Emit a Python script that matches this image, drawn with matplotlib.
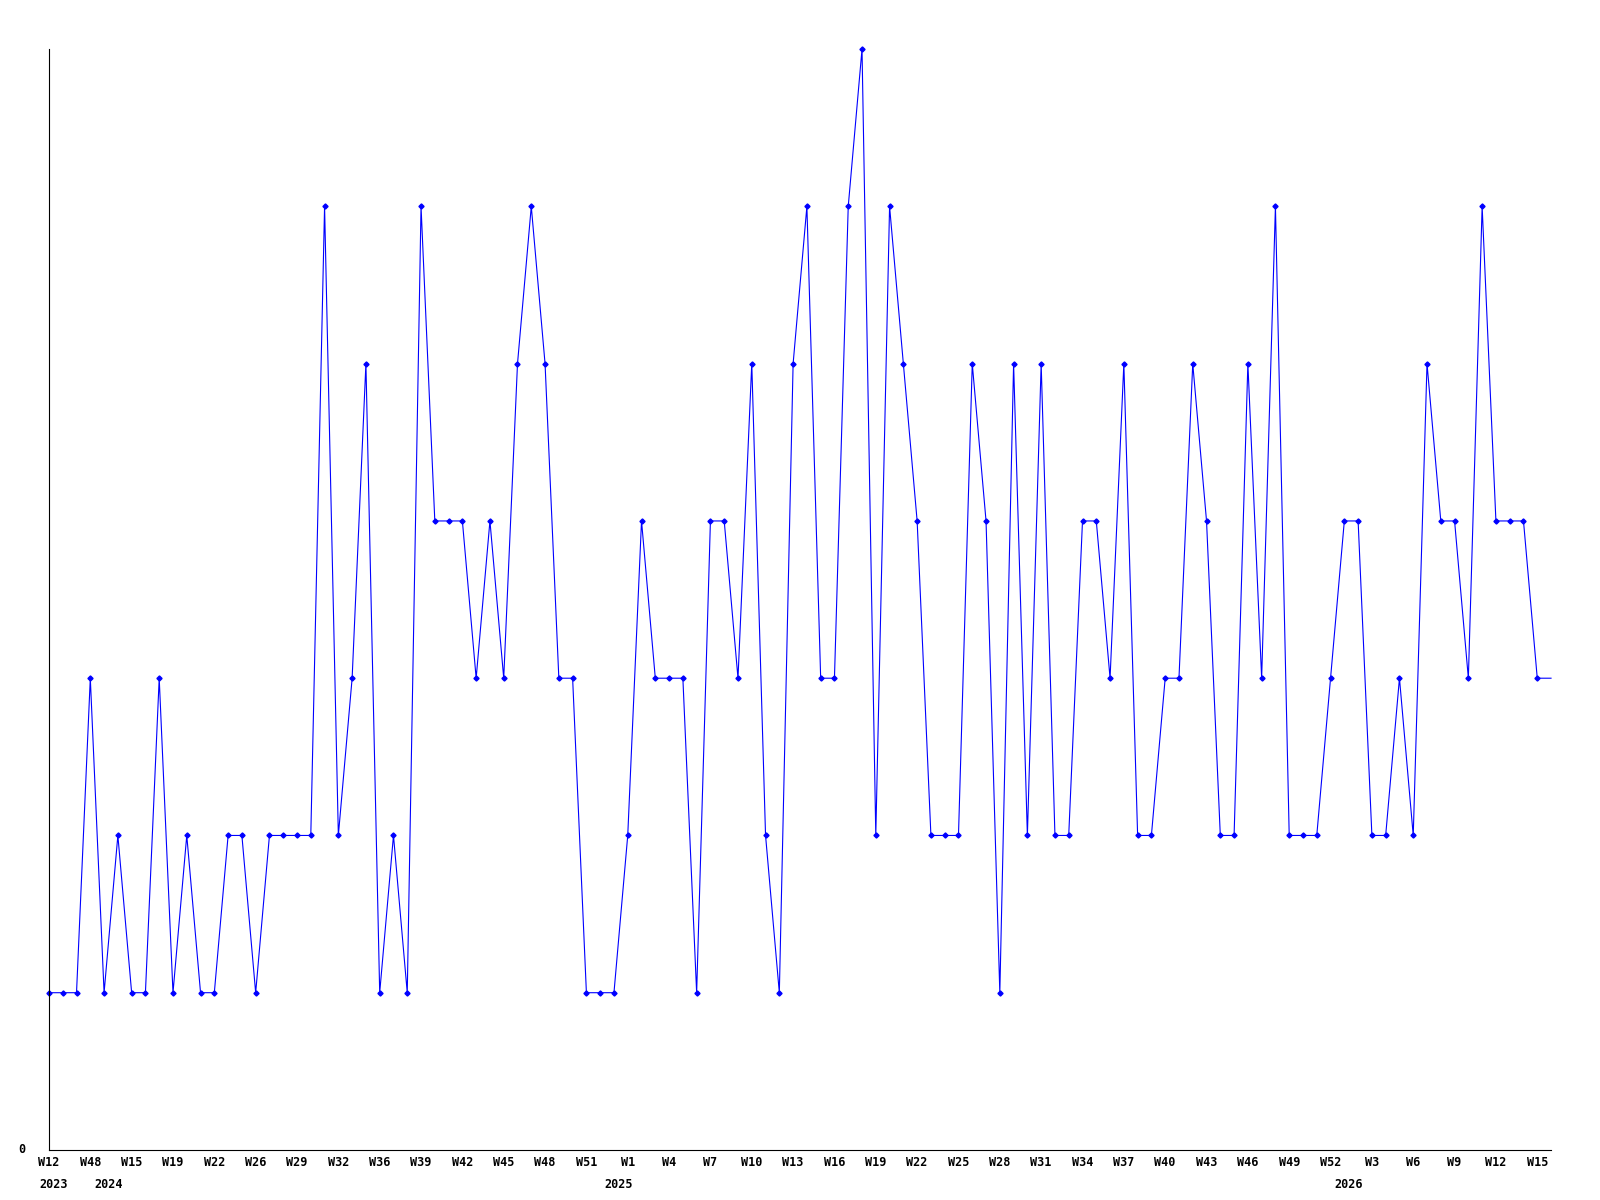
import numpy as np
import matplotlib
matplotlib.use("Agg")
import matplotlib.pyplot as plt

# weekly counts, one per point
values = [1, 1, 1, 3, 1, 2, 1, 1, 3, 1,
          2, 1, 1, 2, 2, 1, 2, 2, 2, 2,
          6, 2, 3, 5, 1, 2, 1, 6, 4, 4,
          4, 3, 4, 3, 5, 6, 5, 3, 3, 1,
          1, 1, 2, 4, 3, 3, 3, 1, 4, 4,
          3, 5, 2, 1, 5, 6, 3, 3, 6, 7,
          2, 6, 5, 4, 2, 2, 2, 5, 4, 1,
          5, 2, 5, 2, 2, 4, 4, 3, 5, 2,
          2, 3, 3, 5, 4, 2, 2, 5, 3, 6,
          2, 2, 2, 3, 4, 4, 2, 2, 3, 2,
          5, 4, 4, 3, 6, 4, 4, 4, 3]

week_labels = ["W12", "W48", "W15", "W19", "W22", "W26", "W29", "W32", "W36",
               "W39", "W42", "W45", "W48", "W51", "W1", "W4", "W7", "W10",
               "W13", "W16", "W19", "W22", "W25", "W28", "W31", "W34", "W37",
               "W40", "W43", "W46", "W49", "W52", "W3", "W6", "W9", "W12", "W15"]
label_step = 3

years = ["2023", "2024", "2025", "2026"]
year_idx = [0, 4, 41, 94]

font = dict(family="DejaVu Sans Mono", weight="bold", size=8.5)

fig = plt.figure(figsize=(16, 12), dpi=100)
ax = fig.add_axes([0.0306, 0.0417, 0.9388, 0.9173])

n = len(values)
xs = np.arange(n + 1)
ys = values + [values[-1]]   # line runs on to the right edge
ax.plot(xs, ys, color="#0000ff", lw=0.8, marker="D", ms=2.6,
        markevery=list(range(n)), mfc="#0000ff", mec="#0000ff",
        clip_on=False)

ax.set_xlim(0, n)
ax.set_ylim(0, max(values))

for s in ["top", "right"]:
    ax.spines[s].set_visible(False)
for s in ["left", "bottom"]:
    ax.spines[s].set_color("black")
    ax.spines[s].set_linewidth(0.8)

ax.set_yticks([])
ax.text(-0.018, 0, "0", transform=ax.get_yaxis_transform(),
        ha="center", va="center", **font)

ax.set_xticks(np.arange(0, n, label_step)[:len(week_labels)])
ax.set_xticklabels(week_labels, fontdict=font)
ax.tick_params(axis="x", length=0, pad=4)

for yr, i in zip(years, year_idx):
    ax.annotate(yr, xy=(i, 0), xycoords=("data", "axes fraction"),
                xytext=(3, -20), textcoords="offset points",
                ha="center", va="top", **font)

fig.savefig("out.png", dpi=100)
